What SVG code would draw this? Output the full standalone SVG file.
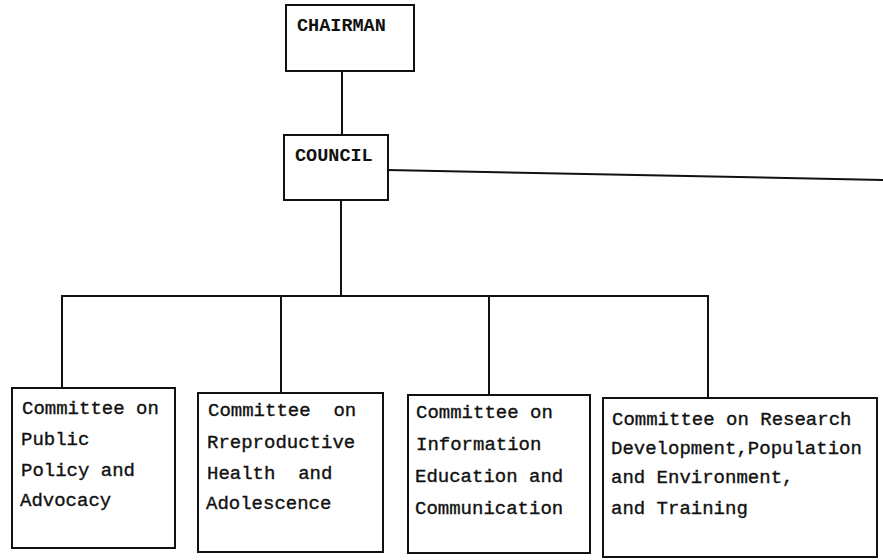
<svg xmlns="http://www.w3.org/2000/svg" width="883" height="560" viewBox="0 0 883 560">
<style>
.box{fill:#fff;stroke:#111;stroke-width:2}
.ln{fill:none;stroke:#111;stroke-width:2}
.t{font-family:"Liberation Mono","DejaVu Sans Mono",monospace;font-size:19px;fill:#111;stroke:#111;stroke-width:0.35;white-space:pre}
.h{font-family:"Liberation Mono","DejaVu Sans Mono",monospace;font-size:18.5px;font-weight:bold;fill:#111}
</style>
<rect width="883" height="560" fill="#fff"/>
<g id="connectors">
<line class="ln" x1="342" y1="71" x2="342" y2="135"/>
<line class="ln" x1="388" y1="170" x2="883" y2="180"/>
<line class="ln" x1="341" y1="200" x2="341" y2="296"/>
<line class="ln" x1="61" y1="296" x2="709" y2="296"/>
<line class="ln" x1="62" y1="296" x2="62" y2="388"/>
<line class="ln" x1="281" y1="296" x2="281" y2="393"/>
<line class="ln" x1="489" y1="296" x2="489" y2="395"/>
<line class="ln" x1="708" y1="296" x2="708" y2="398"/>
</g>
<g id="chairman">
<rect class="box" x="286" y="5" width="128" height="66"/>
<text class="h" x="297" y="31">CHAIRMAN</text>
</g>
<g id="council">
<rect class="box" x="284" y="135" width="104" height="65"/>
<text class="h" x="295" y="161">COUNCIL</text>
</g>
<g id="committee-public-policy">
<rect class="box" x="12" y="388" width="163" height="160"/>
<text class="t" x="22" y="414">Committee on</text>
<text class="t" x="21" y="445">Public</text>
<text class="t" x="21" y="476">Policy and</text>
<text class="t" x="20" y="506">Advocacy</text>
</g>
<g id="committee-reproductive-health">
<rect class="box" x="198" y="393" width="185" height="159"/>
<text class="t" x="208" y="416" xml:space="preserve">Committee  on</text>
<text class="t" x="207" y="448">Rreproductive</text>
<text class="t" x="207" y="479" xml:space="preserve">Health  and</text>
<text class="t" x="206" y="509">Adolescence</text>
</g>
<g id="committee-information">
<rect class="box" x="408" y="395" width="182" height="158"/>
<text class="t" x="416" y="418">Committee on</text>
<text class="t" x="416" y="450">Information</text>
<text class="t" x="415" y="482">Education and</text>
<text class="t" x="415" y="514">Communication</text>
</g>
<g id="committee-research">
<rect class="box" x="603" y="398" width="274" height="159"/>
<text class="t" x="612" y="425">Committee on Research</text>
<text class="t" x="611" y="454">Development,Population</text>
<text class="t" x="611" y="483">and Environment,</text>
<text class="t" x="611" y="514">and Training</text>
</g>
</svg>
